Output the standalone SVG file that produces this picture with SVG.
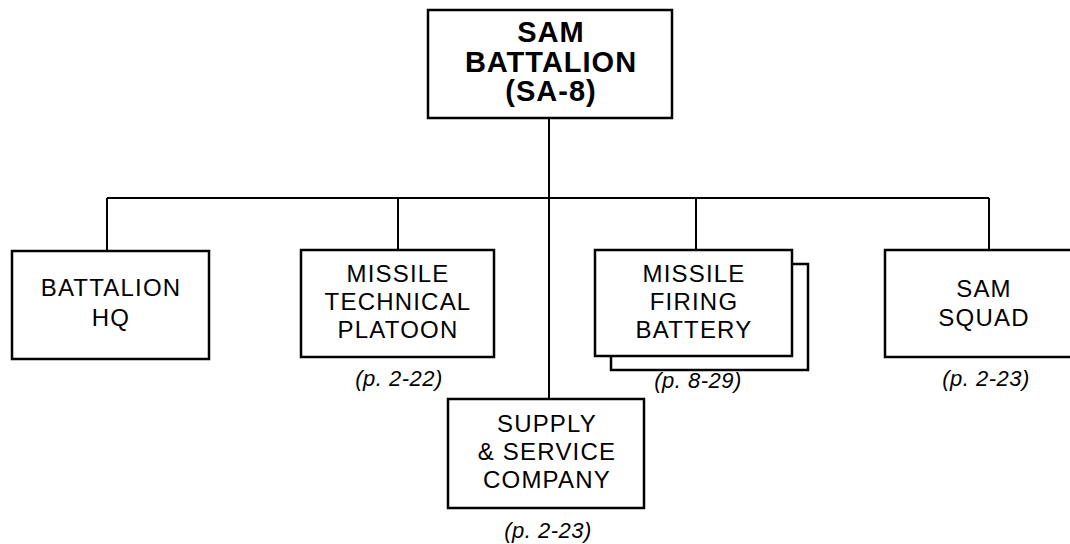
<svg xmlns="http://www.w3.org/2000/svg" width="1070" height="544" viewBox="0 0 1070 544">
<style>
.box{fill:#fff;stroke:#000;stroke-width:2.5}
.ln{fill:none;stroke:#000;stroke-width:2}
.t{font-family:"Liberation Sans",Arial,sans-serif;font-size:24px;letter-spacing:1.2px;text-anchor:middle;fill:#000}
.tb{font-family:"Liberation Sans",Arial,sans-serif;font-size:29px;letter-spacing:1px;font-weight:bold;text-anchor:middle;fill:#000}
.c{font-family:"Liberation Sans",Arial,sans-serif;font-size:22px;letter-spacing:0.5px;font-style:italic;text-anchor:middle;fill:#000}
</style>
<rect width="1070" height="544" fill="#fff"/>
<g id="connectors">
<path class="ln" d="M549 118 V399"/>
<path class="ln" d="M107 198 H989"/>
<path class="ln" d="M107 198 V251"/>
<path class="ln" d="M398 198 V250"/>
<path class="ln" d="M696 198 V250"/>
<path class="ln" d="M989 198 V250"/>
</g>
<g id="sam-battalion">
<rect class="box" x="428" y="10" width="244" height="108"/>
<text class="tb" x="551" y="42">SAM</text>
<text class="tb" x="551" y="72">BATTALION</text>
<text class="tb" x="551" y="101">(SA-8)</text>
</g>
<g id="battalion-hq">
<rect class="box" x="12" y="251" width="197" height="108"/>
<text class="t" x="111" y="296">BATTALION</text>
<text class="t" x="111" y="326">HQ</text>
</g>
<g id="missile-technical-platoon">
<rect class="box" x="301" y="250" width="193" height="107"/>
<text class="t" x="398" y="282">MISSILE</text>
<text class="t" x="398" y="310">TECHNICAL</text>
<text class="t" x="398" y="338">PLATOON</text>
<text class="c" x="399" y="386">(p. 2-22)</text>
</g>
<g id="missile-firing-battery">
<rect class="box" x="611" y="264" width="197" height="106"/>
<rect class="box" x="595" y="250" width="197" height="106"/>
<text class="t" x="694" y="282">MISSILE</text>
<text class="t" x="694" y="310">FIRING</text>
<text class="t" x="694" y="338">BATTERY</text>
<text class="c" x="698" y="388">(p. 8-29)</text>
</g>
<g id="sam-squad">
<rect class="box" x="885" y="250" width="200" height="107"/>
<text class="t" x="984" y="297">SAM</text>
<text class="t" x="984" y="326">SQUAD</text>
<text class="c" x="986" y="386">(p. 2-23)</text>
</g>
<g id="supply-service-company">
<rect class="box" x="448" y="399" width="196" height="109"/>
<text class="t" x="547" y="432">SUPPLY</text>
<text class="t" x="547" y="460">&amp; SERVICE</text>
<text class="t" x="547" y="488">COMPANY</text>
<text class="c" x="548" y="538">(p. 2-23)</text>
</g>
</svg>
